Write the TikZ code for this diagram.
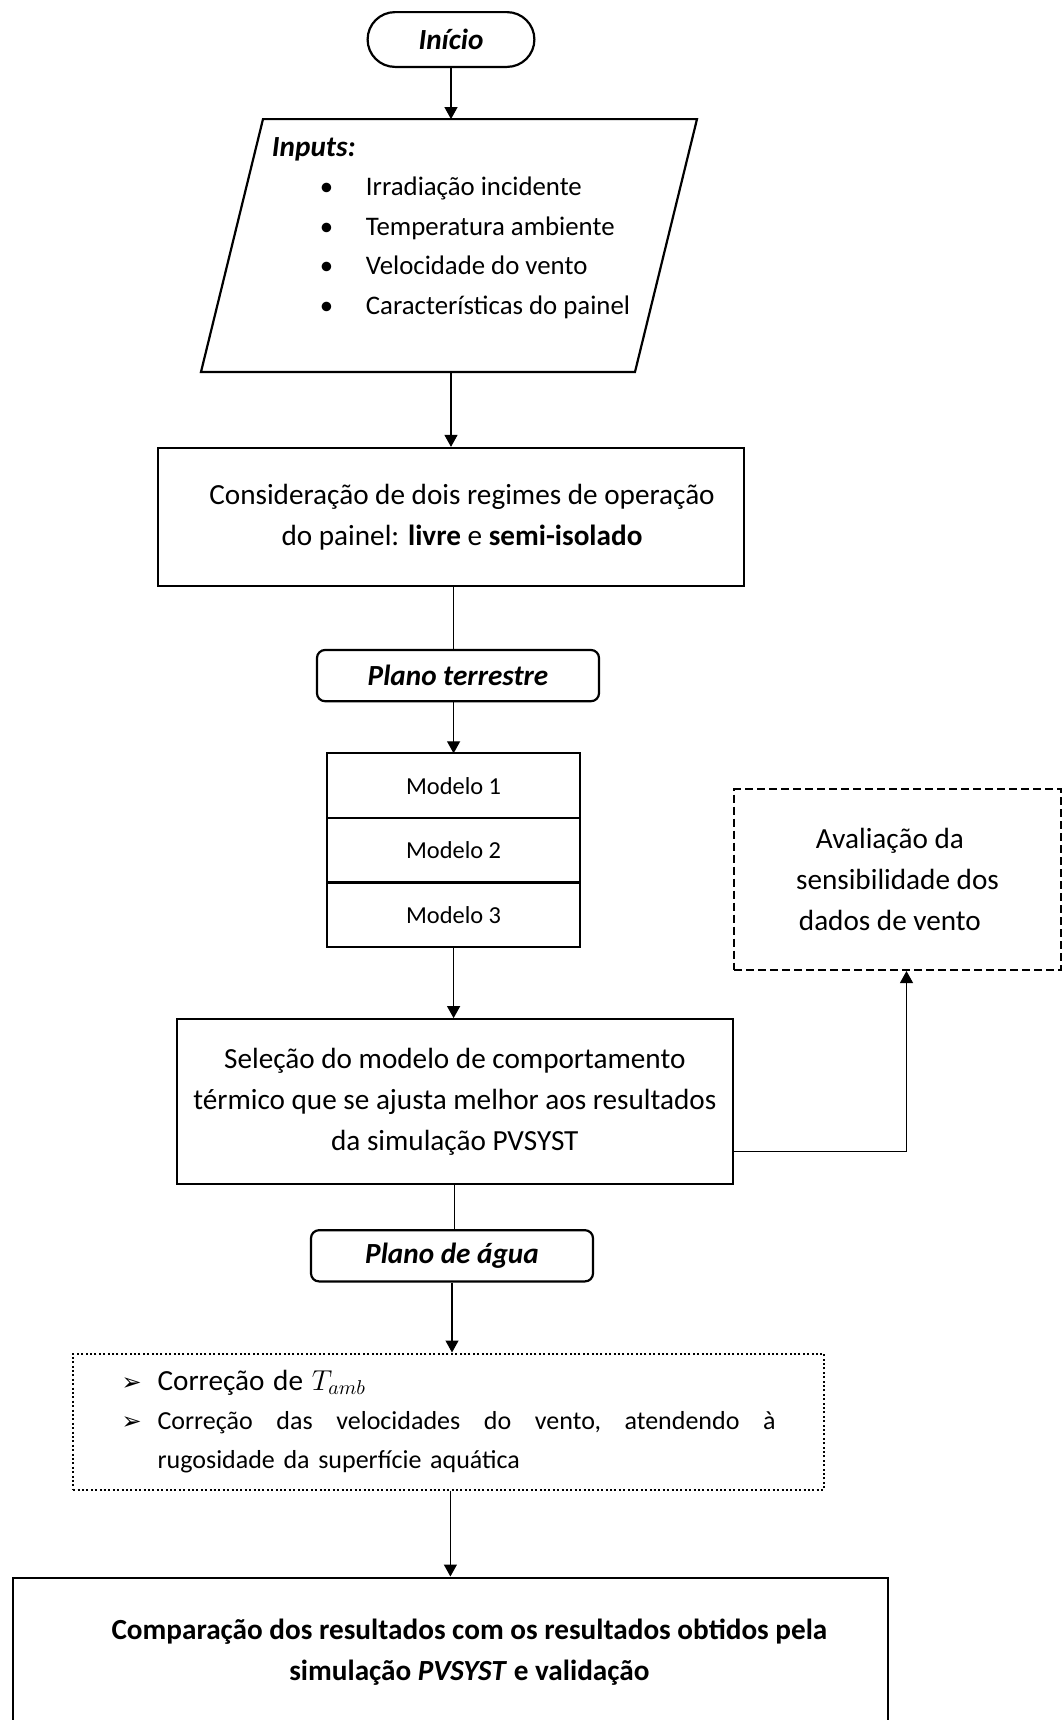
\documentclass[tikz,border=0pt]{standalone}
\usepackage{fontspec}
\setmainfont{Carlito}
\newfontfamily\dingfont{DejaVu Sans}
\usetikzlibrary{positioning, arrows.meta, calc}

\tikzset{
  box/.style={rectangle, draw, line width=1.1pt, align=center, font=\fontsize{14.6}{20.5}\selectfont},
  tag/.style={rectangle, draw, rounded corners=4pt, line width=1.1pt, minimum width=141pt, minimum height=25.6pt, font=\fontsize{14.6}{18}\selectfont\bfseries\itshape},
  model/.style={rectangle, draw, line width=1.1pt, outer sep=0pt, minimum width=126.4pt, minimum height=32.3pt, font=\fontsize{12.2}{14}\selectfont},
  link/.style={line width=0.6pt},
  arr/.style={link, -{Triangle[length=6pt, width=6.5pt]}},
}

\begin{document}
\begin{tikzpicture}
  \useasboundingbox (0,0) rectangle (531.5pt,-860pt);

  \node[rectangle, rounded corners=13.7pt, draw, line width=1.1pt, minimum width=83.4pt, minimum height=27.4pt, font=\fontsize{14.6}{18}\selectfont\bfseries\itshape] (inicio) at (225.5pt,-19.75pt) {Início};

  % parallelogram for the inputs
  \node[minimum width=217pt, minimum height=126.4pt, outer sep=0pt] (inputs) at (224.5pt,-122.75pt) {};
  \draw[line width=1.1pt] ([xshift=-15.5pt]inputs.south west) -- ([xshift=15.5pt]inputs.north west) -- ([xshift=15.5pt]inputs.north east) -- ([xshift=-15.5pt]inputs.south east) -- cycle;
  \node[align=left, font=\fontsize{13.4}{19.75}\selectfont] (inputlist) at ([xshift=1pt, yshift=8.9pt]inputs.center) {%
    {\fontsize{14.6}{19.75}\selectfont\bfseries\itshape Inputs:}\\
    \hspace*{24pt}\makebox[23pt][l]{\textbullet}Irradiação incidente\\
    \hspace*{24pt}\makebox[23pt][l]{\textbullet}Temperatura ambiente\\
    \hspace*{24pt}\makebox[23pt][l]{\textbullet}Velocidade do vento\\
    \hspace*{24pt}\makebox[23pt][l]{\textbullet}Características do painel};

  \node[box, minimum width=293pt, minimum height=68.9pt, below=37.5pt of inputs, xshift=1pt] (regimes) {\hspace*{11pt}Consideração de dois regimes de operação\\\hspace*{11pt}do painel: \textbf{livre} e \textbf{semi-isolado}};
  \node[tag, below=31pt of regimes, xshift=3.5pt] (terrestre) {Plano terrestre};

  \node[model, below=25.5pt of terrestre, xshift=-2.2pt] (modelo1) {Modelo 1};
  \node[model, below=0pt of modelo1] (modelo2) {Modelo 2};
  \node[model, below=0pt of modelo2] (modelo3) {Modelo 3};

  \node[box, minimum width=278pt, minimum height=82.4pt, below=35.5pt of modelo3, xshift=0.6pt] (selecao) {Seleção do modelo de comportamento\\térmico que se ajusta melhor aos resultados\\da simulação PVSYST};
  \node[box, dash pattern=on 4pt off 2pt, minimum width=163.4pt, minimum height=90.4pt] (vento) at (448.75pt,-439.75pt) {Avaliação da\hspace*{7.6pt}\\sensibilidade dos\hspace*{7.6pt}\\dados de vento\hspace*{7.6pt}};

  \node[tag, below=22pt of selecao, xshift=-1.4pt] (agua) {Plano de água};

  \node[rectangle, draw, line width=1pt, dash pattern=on 1pt off 1.2pt, text width=327pt, inner xsep=24.25pt, minimum height=68pt, align=left, font=\fontsize{13}{19.5}\selectfont, below=35pt of agua, xshift=-1.7pt] (correcao) {%
    \makebox[18pt][l]{\dingfont\fontsize{12}{12}\selectfont ➢}{\fontsize{14.6}{19.5}\selectfont Correção de $T_{amb}$}\\
    \makebox[18pt][l]{\dingfont\fontsize{12}{12}\selectfont ➢}\makebox[309pt][s]{Correção\hfill das\hfill velocidades\hfill do\hfill vento,\hfill atendendo\hfill à}\\
    \hspace*{18pt}rugosidade da superfície aquática};

  \node[box, minimum width=437.5pt, minimum height=75pt, font=\fontsize{14.6}{20.5}\selectfont\bfseries, below=43pt of correcao, xshift=0.9pt] (final) {\hspace*{19pt}Comparação dos resultados com os resultados obtidos pela\\\hspace*{19pt}simulação \textit{PVSYST} e validação};

  \draw[arr] (inicio.south) -- (inicio.south |- inputs.north);
  \draw[arr] (regimes.north |- inputs.south) -- (regimes.north);
  \draw[link] (regimes.south -| modelo1.north) -- (modelo1.north |- terrestre.north);
  \draw[arr] (modelo1.north |- terrestre.south) -- (modelo1.north);
  \draw[arr] (modelo3.south) -- (modelo3.south |- selecao.north);
  \draw[arr] ([yshift=-25pt]selecao.east) -| ([xshift=4.5pt]vento.south);
  \draw[link] (selecao.south) -- (selecao.south |- agua.north);
  \draw[arr] (agua.south) -- (agua.south |- correcao.north);
  \draw[arr] (final.north |- correcao.south) -- (final.north);
\end{tikzpicture}
\end{document}
